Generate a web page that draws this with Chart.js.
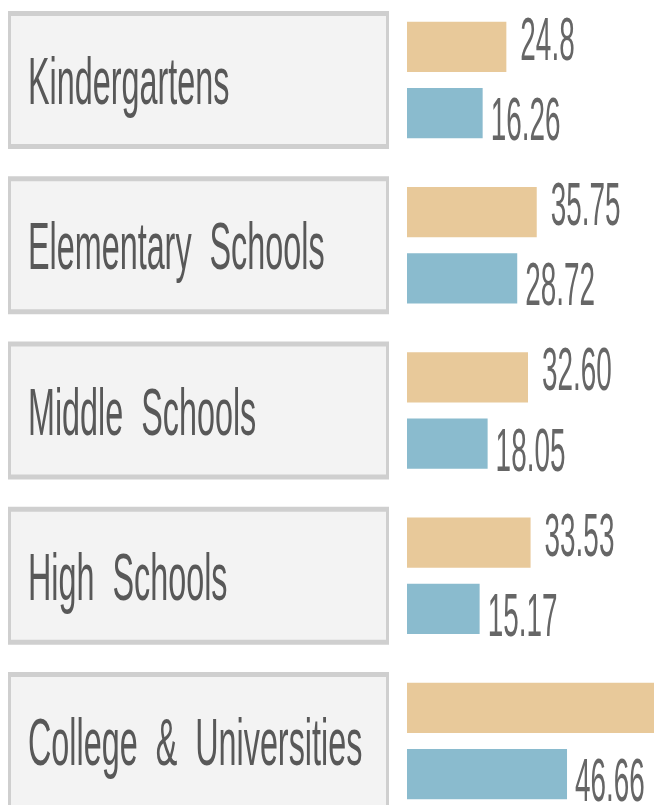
<!DOCTYPE html>
<html>
<head>
<meta charset="utf-8">
<script src="https://cdn.jsdelivr.net/npm/chart.js@4"></script>
<style>
  html, body { margin: 0; padding: 0; background: #fff; }
  #wrap { width: 654px; height: 805px; position: relative; }
</style>
</head>
<body>
<div id="wrap"><canvas id="schoolChart"></canvas></div>
<script>
// categories and values
const categories = ['Kindergartens', 'Elementary Schools', 'Middle Schools', 'High Schools', 'College & Universities'];
const orangeValues = [24.8, 35.75, 32.60, 33.53, 80];   // last one runs off the edge, estimated
const blueValues = [16.26, 28.72, 18.05, 15.17, 46.66];
const orangeText = ['24.8', '35.75', '32.60', '33.53', ''];
const blueText = ['16.26', '28.72', '18.05', '15.17', '46.66'];

const ORANGE = '#E8C99A';
const BLUE = '#8ABBCE';

// draw a string squeezed horizontally (the original lettering is very narrow)
function squeezedText(ctx, text, x, y, sx) {
    ctx.save();
    ctx.translate(x, y);
    ctx.scale(sx, 1);
    ctx.fillText(text, 0, 0);
    ctx.restore();
}

// label boxes on the left, one per category
const boxPlugin = {
    id: 'boxPlugin',
    beforeDatasetsDraw(chart) {
        const ctx = chart.ctx;
        const yScale = chart.scales.y;
        ctx.save();
        categories.forEach((name, i) => {
            const cy = yScale.getPixelForValue(i);
            const top = cy - 69;
            ctx.fillStyle = '#cfcfcf';
            ctx.fillRect(8, top, 381, 138);
            ctx.fillStyle = '#f3f3f3';
            ctx.fillRect(11, top + 5, 375, 128);
            ctx.fillStyle = '#585858';
            ctx.font = '66px "Liberation Sans", Arial, sans-serif';
            ctx.textAlign = 'left';
            ctx.textBaseline = 'alphabetic';
            // words a bit further apart, as in the original
            squeezedText(ctx, name.split(' ').join('  '), 28, cy + 24, 0.49);
        });
        ctx.restore();
    }
};

// value labels next to the bar ends
const valuePlugin = {
    id: 'valuePlugin',
    afterDatasetsDraw(chart) {
        const ctx = chart.ctx;
        ctx.save();
        ctx.fillStyle = '#666';
        ctx.font = '62px "Liberation Sans", Arial, sans-serif';
        ctx.textAlign = 'left';
        ctx.textBaseline = 'alphabetic';
        const texts = [orangeText, blueText];
        const gaps = [14, 8];
        const shift = [-9, 5];
        chart.data.datasets.forEach((ds, d) => {
            chart.getDatasetMeta(d).data.forEach((bar, i) => {
                const t = texts[d][i];
                if (!t) return;
                squeezedText(ctx, t, bar.x + gaps[d], bar.y + shift[d] + 22, 0.45);
            });
        });
        ctx.restore();
    }
};

const ctx = document.getElementById('schoolChart').getContext('2d');

new Chart(ctx, {
    type: 'bar',
    data: {
        labels: categories,
        datasets: [
            {
                data: orangeValues,
                backgroundColor: ORANGE,
                base: -11,
                clip: false,
                categoryPercentage: 0.8,
                barPercentage: 0.76
            },
            {
                data: blueValues,
                backgroundColor: BLUE,
                base: -11,
                clip: false,
                categoryPercentage: 0.8,
                barPercentage: 0.76
            }
        ]
    },
    options: {
        indexAxis: 'y',
        responsive: true,
        maintainAspectRatio: false,
        animation: false,
        layout: {
            padding: { left: 407, right: 0, top: 80, bottom: 64 }
        },
        scales: {
            x: {
                display: false,
                min: -11,
                max: 78
            },
            y: {
                display: false,
                offset: false
            }
        },
        plugins: {
            legend: { display: false },
            tooltip: { enabled: false }
        }
    },
    plugins: [boxPlugin, valuePlugin]
});
</script>
</body>
</html>
